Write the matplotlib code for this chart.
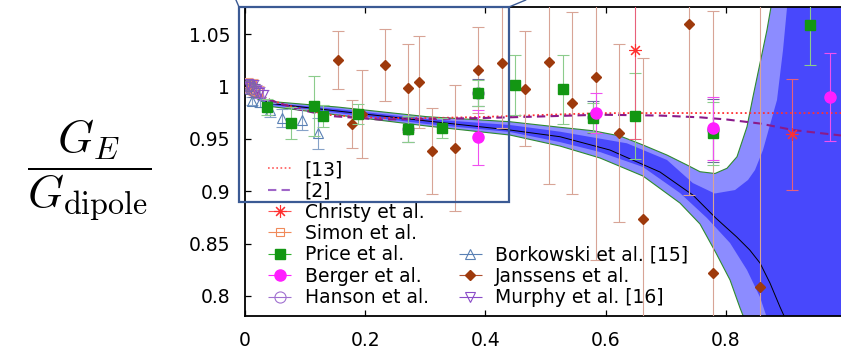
import numpy as np
import matplotlib
matplotlib.use("Agg")
import matplotlib.pyplot as plt
from matplotlib.container import ErrorbarContainer
from matplotlib.legend_handler import HandlerErrorbar
from matplotlib.lines import Line2D
from matplotlib.patches import Rectangle

plt.rcParams["font.family"] = "DejaVu Sans"
plt.rcParams["mathtext.fontset"] = "cm"

# --- model curves -------------------------------------------------------
q2_13 = [0, 0.0419, 0.0868, 0.1416, 0.2248, 0.3079, 0.3910, 0.4908, 0.5905, 0.7235, 0.9912]
ge_13 = [1.0, 0.9870, 0.9794, 0.9727, 0.9698, 0.9698, 0.9708, 0.9727, 0.9745, 0.9746, 0.9746]

q2_2 = [0, 0.0419, 0.0868, 0.1416, 0.2248, 0.3079, 0.3910, 0.4908, 0.5905, 0.6903,
        0.7568, 0.8017, 0.8565, 0.9114, 0.9912]
ge_2 = [1.0, 0.9870, 0.9784, 0.9718, 0.9684, 0.9689, 0.9698, 0.9713, 0.9730, 0.9722,
        0.9705, 0.9684, 0.9646, 0.9584, 0.9532]

# --- fit band: outer (light) and inner (dark) limits + central value -----
out_up_q2 = [0, 0.0153, 0.0436, 0.1546, 0.3029, 0.4409, 0.5240, 0.5789, 0.6238, 0.6620,
             0.7019, 0.7352, 0.7568, 0.7817, 0.8017, 0.8183, 0.8349, 0.8449, 0.8565,
             0.8681, 0.8748, 0.8898, 1.05]
out_up_ge = [1.0, 0.9927, 0.9856, 0.9803, 0.9711, 0.9663, 0.9610, 0.9577, 0.9527, 0.9441,
             0.9345, 0.9250, 0.9186, 0.9169, 0.9219, 0.9329, 0.9615, 0.9902, 1.0220,
             1.0538, 1.0758, 1.14, 1.2]
out_lo_q2 = [0, 0.0153, 0.0436, 0.1546, 0.3029, 0.4409, 0.5240, 0.5905, 0.6620, 0.7235,
             0.7568, 0.7834, 0.8067, 0.8233, 0.8299, 0.843, 1.05]
out_lo_ge = [1.0, 0.9899, 0.9808, 0.9727, 0.9622, 0.9536, 0.9431, 0.9317, 0.9145, 0.8887,
             0.8687, 0.8410, 0.8153, 0.7886, 0.7790, 0.753, 0.7]
in_up_q2 = [0, 0.0153, 0.0436, 0.1546, 0.3029, 0.4409, 0.5240, 0.6354, 0.7019, 0.7448,
            0.7813, 0.8150, 0.8366, 0.8482, 0.8615, 0.8731, 0.8848, 0.8948, 0.9014, 0.9094, 1.05]
in_up_ge = [1.0, 0.9918, 0.9842, 0.9784, 0.9689, 0.9632, 0.9568, 0.9457, 0.9298, 0.9078,
            0.8978, 0.9011, 0.9107, 0.9202, 0.9393, 0.9632, 0.9870, 1.0347, 1.0748, 1.121, 1.2]
in_lo_q2 = [0, 0.0153, 0.0436, 0.1546, 0.3029, 0.4409, 0.5240, 0.5905, 0.6620, 0.7235,
            0.7684, 0.8067, 0.8349, 0.8565, 0.8682, 0.8815, 1.05]
in_lo_ge = [1.0, 0.9908, 0.9823, 0.9746, 0.9641, 0.9565, 0.9469, 0.9374, 0.9231, 0.8983,
            0.8744, 0.8506, 0.8248, 0.7990, 0.7790, 0.753, 0.7]
mid_q2 = [0, 0.0153, 0.0436, 0.1546, 0.3029, 0.4409, 0.5240, 0.6071, 0.6903, 0.7448,
          0.7830, 0.8179, 0.8395, 0.8565, 0.8731, 0.8898, 0.8981, 0.903]
mid_ge = [1.0, 0.9913, 0.9837, 0.9765, 0.9670, 0.9584, 0.9520, 0.9393, 0.9183, 0.8964,
          0.8744, 0.8563, 0.8439, 0.8315, 0.8124, 0.7895, 0.7790, 0.7695]

# --- data sets ------------------------------------------------------------
christy_q2 = [0.6487, 0.9102]
christy_ge = [1.0347, 0.9543]
christy_err = [0.085, 0.053]

simon_q2 = [0.004, 0.008, 0.012, 0.016, 0.022]
simon_ge = [1.003, 1.000, 1.002, 0.997, 0.995]
simon_err = [0.005, 0.005, 0.005, 0.005, 0.005]

price_q2 = [0.0374, 0.0763, 0.1150, 0.1292, 0.1874, 0.2705, 0.3278, 0.3869, 0.4492,
            0.5285, 0.5794, 0.6487, 0.7789, 0.9397]
price_ge = [0.9803, 0.9651, 0.9813, 0.9718, 0.9737, 0.9591, 0.9600, 0.9940, 1.0013,
            0.9973, 0.9703, 0.9722, 0.9552, 1.0586]
price_err = [0.008, 0.015, 0.029, 0.0105, 0.010, 0.0124, 0.0095, 0.0124, 0.029,
             0.033, 0.014, 0.041, 0.030, 0.038]

berger_q2 = [0.387, 0.5839, 0.7789, 0.9729]
berger_ge = [0.9514, 0.9743, 0.9600, 0.9896]
berger_err = [0.026, 0.019, 0.030, 0.042]

hanson_q2 = [0.003, 0.007, 0.011, 0.015, 0.2705, 0.3869, 0.5794, 0.7789]
hanson_ge = [1.000, 1.001, 0.998, 0.996, 0.9591, 0.9940, 0.9710, 0.9580]
hanson_err = [0.004, 0.004, 0.005, 0.006, 0.012, 0.013, 0.015, 0.030]

bork_q2 = [0.012, 0.025, 0.042, 0.062, 0.095, 0.122]
bork_ge = [0.9861, 0.9852, 0.9775, 0.9698, 0.9684, 0.9553]
bork_err = [0.004, 0.005, 0.007, 0.009, 0.010, 0.015]

jans_q2 = [0.155, 0.1787, 0.1943, 0.2331, 0.2718, 0.2901, 0.3107, 0.3495, 0.3869, 0.4271,
           0.4658, 0.5057, 0.5435, 0.5834, 0.6221, 0.6615, 0.7390, 0.7784, 0.8565]
jans_ge = [1.0252, 0.9641, 0.9734, 1.0204, 0.9985, 1.0039, 0.9386, 0.9409, 1.0156, 1.0226,
           0.9980, 1.0236, 0.9844, 1.0093, 0.9553, 0.8735, 1.0595, 0.8224, 0.8089]
jans_err = [0.028, 0.023, 0.042, 0.034, 0.042, 0.044, 0.041, 0.060, 0.041, 0.062,
            0.055, 0.117, 0.087, 0.175, 0.085, 0.154, 0.163, 0.25, 0.30]

murphy_q2 = [0.005, 0.009, 0.013, 0.018, 0.024, 0.030]
murphy_ge = [1.002, 0.999, 1.001, 0.996, 0.994, 0.992]
murphy_err = [0.005, 0.005, 0.005, 0.005, 0.005, 0.005]

fig = plt.figure(figsize=(8.41, 3.49), dpi=100)
ax = fig.add_axes([244.8 / 841, 33 / 349, (841 - 244.8) / 841, 309 / 349])

light_blue = "#8c8cff"
dark_blue = "#4848fc"
ax.fill(out_up_q2 + out_lo_q2[::-1], out_up_ge + out_lo_ge[::-1],
        color=light_blue, lw=0, zorder=1)
ax.fill(in_up_q2 + in_lo_q2[::-1], in_up_ge + in_lo_ge[::-1],
        color=dark_blue, lw=0, zorder=1.1)
ax.plot(out_up_q2, out_up_ge, color="#2f8a2f", lw=0.8, zorder=1.2)
ax.plot(out_lo_q2, out_lo_ge, color="#2f8a2f", lw=0.8, zorder=1.2)
ax.plot(mid_q2, mid_ge, color="black", lw=0.7, zorder=1.3)

ax.plot(q2_13, ge_13, color="#ff3030", ls=(0, (1, 1.5)), lw=1.3, zorder=2)
ax.plot(q2_2, ge_2, color="#8a1a8a", ls=(0, (4, 2.5)), lw=1.5, zorder=2)

eb = dict(elinewidth=0.8, capsize=4, capthick=0.8, ls="none")
ax.errorbar(jans_q2, jans_ge, yerr=jans_err, fmt="D", ms=5.5, color="#9e3a0c",
            ecolor="#d8a496", zorder=3, **eb)
ax.errorbar(bork_q2, bork_ge, yerr=bork_err, fmt="^", ms=6.5, mfc="none", mew=0.8,
            color="#5a80b4", ecolor="#86a2c8", zorder=3, **eb)
ax.errorbar(simon_q2, simon_ge, yerr=simon_err, fmt="s", ms=6, mfc="none", mew=0.8,
            color="#f08a5a", ecolor="#f4a888", zorder=3, **eb)
ax.errorbar(murphy_q2, murphy_ge, yerr=murphy_err, fmt="v", ms=6.5, mfc="none", mew=0.8,
            color="#8a4cc8", ecolor="#a57ad4", zorder=3, **eb)
ax.errorbar(hanson_q2, hanson_ge, yerr=hanson_err, fmt="o", ms=8, mfc="none", mew=0.8,
            color="#8068a8", ecolor="#6c6c9c", zorder=3, **eb)
ax.errorbar(price_q2, price_ge, yerr=price_err, fmt="s", ms=7.5, color="#139613",
            ecolor="#8ccc8c", zorder=4, **eb)
ax.errorbar(berger_q2, berger_ge, yerr=berger_err, fmt="o", ms=8, color="#ff1eff",
            ecolor="#f050f0", zorder=4, **eb)
ax.errorbar(christy_q2, christy_ge, yerr=christy_err, fmt="none", ecolor="#e8607a",
            zorder=4, **eb)
ax.plot(christy_q2, christy_ge, ls="none", marker=(8, 2, 0), ms=9, mew=0.8,
        color="#ff3030", zorder=4)

ax.set_xlim(0, 0.9912)
ax.set_ylim(0.7809, 1.0758)
ax.set_xticks([0, 0.2, 0.4, 0.6, 0.8], labels=["0", "0.2", "0.4", "0.6", "0.8"])
ax.set_yticks([0.8, 0.85, 0.9, 0.95, 1.0, 1.05],
              labels=["0.8", "0.85", "0.9", "0.95", "1", "1.05"])
ax.tick_params(direction="in", top=True, right=False, length=4.3, width=0.9,
               labelsize=13.5)
ax.tick_params(axis="y", pad=10.5)
ax.tick_params(axis="x", pad=11)
ax.spines["right"].set_visible(False)
for s in ("left", "bottom", "top"):
    ax.spines[s].set_linewidth(1.3)

# zoom frame around the low-Q2 region
frame_col = "#3b5a94"
ax.add_patch(Rectangle((-0.0096, 0.8897), 0.4488, 0.1861, fill=False, ec=frame_col,
                       lw=1.6, clip_on=False, zorder=10))
ax.plot([-0.0096, -0.0146], [1.0758, 1.0824], color=frame_col, lw=1.0, clip_on=False, zorder=10)
ax.plot([0.4392, 0.4668], [1.0758, 1.0824], color=frame_col, lw=1.0, clip_on=False, zorder=10)


# legend with horizontal error-bar samples
def key(marker, color, ecolor, label, **kw):
    return ax.errorbar([], [], xerr=[], marker=marker, ls="none", color=color,
                       ecolor=ecolor, elinewidth=0.8, capsize=4, capthick=0.8,
                       label=label, **kw)


h13 = Line2D([], [], color="#ff5a5a", ls=(0, (1, 1.5)), lw=1.2, label="[13]")
h2 = Line2D([], [], color="#a066c8", ls=(0, (4, 2.5)), lw=1.5, label="[2]")
hchr = key((8, 2, 0), "#ff3030", "#ff5050", "Christy et al.", ms=9, mew=0.8)
hsim = key("s", "#f08a5a", "#f08a5a", "Simon et al.", ms=6, mfc="none", mew=0.8)
hpri = key("s", "#139613", "#30b030", "Price et al.", ms=7.5)
hber = key("o", "#ff1eff", "#ff1eff", "Berger et al.", ms=8)
hhan = key("o", "#a070d0", "#a070d0", "Hanson et al.", ms=8, mfc="none", mew=0.8)
hbor = key("^", "#5a80b4", "#5a80b4", "Borkowski et al. [15]", ms=6.5, mfc="none", mew=0.8)
hjan = key("D", "#9e3a0c", "#b05030", "Janssens et al.", ms=5.5)
hmur = key("v", "#8a4cc8", "#8a4cc8", "Murphy et al. [16]", ms=6.5, mfc="none", mew=0.8)
blank = Line2D([], [], ls="none", label="")

handles = [h13, h2, hchr, hsim, hpri, hber, hhan, blank, blank, blank, blank, hbor, hjan, hmur]
ax.legend(handles=handles, labels=[h.get_label() for h in handles], ncol=2,
          loc="upper left", bbox_to_anchor=(268 / 841, 1 - 160 / 349),
          bbox_transform=fig.transFigure, frameon=False, fontsize=13.5,
          handlelength=1.25, handletextpad=0.7, labelspacing=0.125, columnspacing=1.6,
          borderpad=0, borderaxespad=0,
          handler_map={ErrorbarContainer: HandlerErrorbar(xerr_size=0.62)})

fig.text(89 / 841, 1 - 170 / 349, r"$\dfrac{G_E}{G_{\mathrm{dipole}}}$", fontsize=33,
         ha="center", va="center")

fig.savefig("out.png", dpi=100)
